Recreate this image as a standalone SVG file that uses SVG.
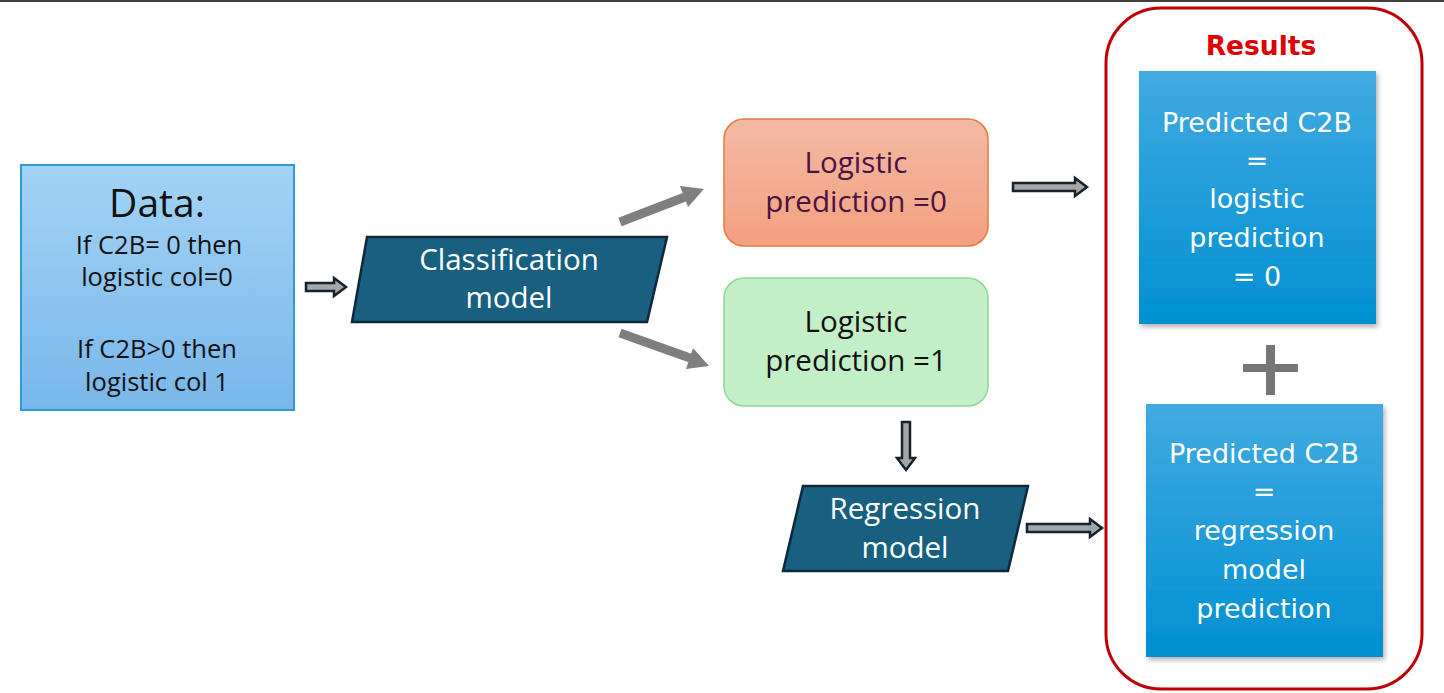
<svg xmlns="http://www.w3.org/2000/svg" width="1444" height="693" viewBox="0 0 1444 693">
<defs>
<linearGradient id="gData" x1="0" y1="0" x2="0" y2="1"><stop offset="0" stop-color="#a2d3f5"/><stop offset="1" stop-color="#79b7ea"/></linearGradient>
<linearGradient id="gOr" x1="0" y1="0" x2="0" y2="1"><stop offset="0" stop-color="#f4baa4"/><stop offset="1" stop-color="#f2a080"/></linearGradient>
<linearGradient id="gRes" x1="0" y1="0" x2="0" y2="1"><stop offset="0" stop-color="#42aae1"/><stop offset="1" stop-color="#0090d2"/></linearGradient>
<filter id="sh" x="-10%" y="-10%" width="130%" height="130%"><feDropShadow dx="2" dy="3" stdDeviation="2.5" flood-color="#000" flood-opacity="0.3"/></filter>
</defs>
<style>
text{font-family:"Open Sans","Liberation Sans",sans-serif;text-anchor:middle}
.para{fill:#185f80;stroke:#10293a;stroke-width:2.5}
.wt{fill:#fff;font-size:29.5px}
.lg{font-size:29.5px}
.dt{font-size:25.5px;fill:#111}
.blk{fill:#a6a6a6;stroke:#14232f;stroke-width:2.5;stroke-linejoin:miter}
.gline{stroke:#7f7f7f;stroke-width:9;fill:none}
.rt{fill:#fff;font-size:27px;font-family:"DejaVu Sans","Liberation Sans",sans-serif}
</style>
<rect x="0" y="0" width="1444" height="693" fill="#fff"/>
<line x1="0" y1="1" x2="1444" y2="1" stroke="#404040" stroke-width="2"/>

<g id="data">
<rect x="21" y="165" width="273" height="245" fill="url(#gData)" stroke="#2e9ad6" stroke-width="2"/>
<text x="157" y="217" font-size="39" fill="#111">Data:</text>
<text class="dt" x="159" y="254">If C2B= 0 then</text>
<text class="dt" x="157" y="286">logistic col=0</text>
<text class="dt" x="157" y="358">If C2B&gt;0 then</text>
<text class="dt" x="157" y="391">logistic col 1</text>
</g>

<g id="classification">
<polygon class="para" points="367,237 667,237 647,322 352,322"/>
<text class="wt" x="509" y="270">Classification</text>
<text class="wt" x="509" y="308">model</text>
</g>

<g id="logistic0">
<rect x="724" y="119" width="264" height="127" rx="20" fill="url(#gOr)" stroke="#e8793f" stroke-width="1.5"/>
<text class="lg" x="856" y="173" fill="#4b1242">Logistic</text>
<text class="lg" x="856" y="212" fill="#4b1242">prediction =0</text>
</g>

<g id="logistic1">
<rect x="724" y="278" width="264" height="128" rx="20" fill="#c3efc7" stroke="#8fd893" stroke-width="1.5"/>
<text class="lg" x="856" y="332" fill="#111">Logistic</text>
<text class="lg" x="856" y="371" fill="#111">prediction =1</text>
</g>

<g id="regression">
<polygon class="para" points="803,486 1028,486 1008,571 783,571"/>
<text class="wt" x="905" y="519">Regression</text>
<text class="wt" x="905" y="558">model</text>
</g>

<g id="results">
<rect x="1106" y="8" width="316" height="681" rx="55" fill="none" stroke="#c00000" stroke-width="3"/>
<text x="1261" y="55" font-size="26.5" font-weight="bold" fill="#e00000" style="font-family:'DejaVu Sans','Liberation Sans',sans-serif">Results</text>
<g id="res1">
<rect x="1139" y="71" width="237" height="253" fill="url(#gRes)" filter="url(#sh)"/>
<text class="rt" x="1257" y="132">Predicted C2B</text>
<text class="rt" x="1257" y="170">=</text>
<text class="rt" x="1257" y="208">logistic</text>
<text class="rt" x="1257" y="247">prediction</text>
<text class="rt" x="1257" y="286">= 0</text>
</g>
<g id="plus">
<rect x="1243" y="364" width="55" height="8" fill="#767676"/>
<rect x="1266" y="345" width="9" height="50" fill="#767676"/>
</g>
<g id="res2">
<rect x="1146" y="404" width="237" height="253" fill="url(#gRes)" filter="url(#sh)"/>
<text class="rt" x="1264" y="463">Predicted C2B</text>
<text class="rt" x="1264" y="501">=</text>
<text class="rt" x="1264" y="540">regression</text>
<text class="rt" x="1264" y="579">model</text>
<text class="rt" x="1264" y="618">prediction</text>
</g>
</g>

<g id="connectors">
<polygon class="blk" points="306,283 334,283 334,278 346,287 334,296 334,291 306,291"/>
<line class="gline" x1="620" y1="222" x2="685" y2="197"/>
<polygon points="704,189 680,186 688,207" fill="#7f7f7f"/>
<line class="gline" x1="620" y1="333" x2="690" y2="358"/>
<polygon points="709,366 693,348 686,369" fill="#7f7f7f"/>
<polygon class="blk" points="1013,183 1075,183 1075,178 1087,187 1075,196 1075,191 1013,191"/>
<polygon class="blk" points="902,422 910,422 910,458 915,458 906,470 897,458 902,458"/>
<polygon class="blk" points="1027,524 1090,524 1090,519 1102,528 1090,537 1090,532 1027,532"/>
</g>
</svg>
